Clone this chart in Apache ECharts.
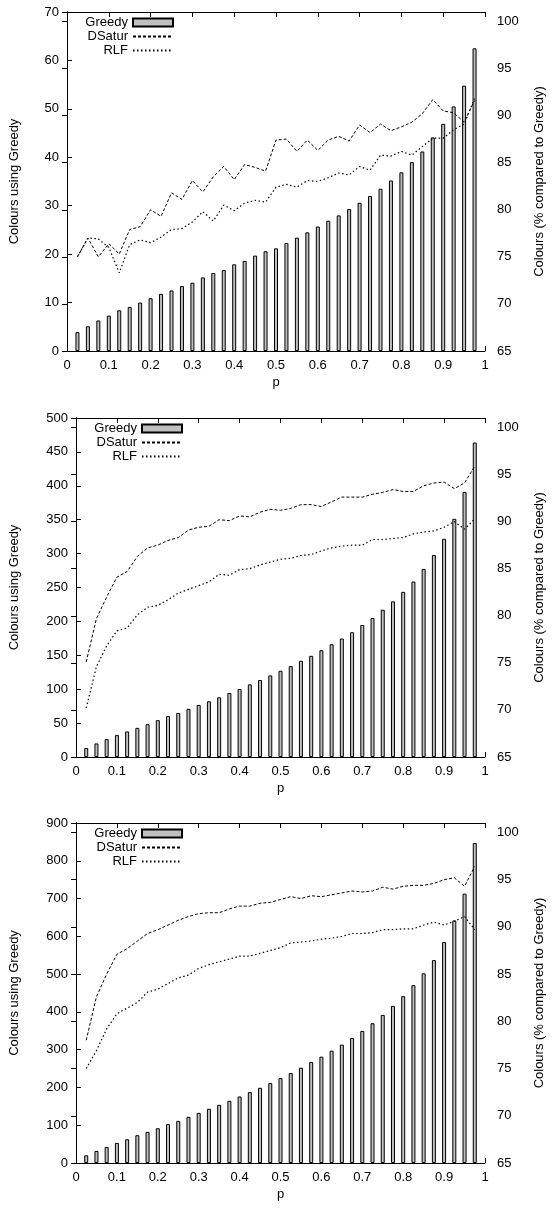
<!DOCTYPE html>
<html>
<head>
<meta charset="utf-8">
<script src="https://cdn.jsdelivr.net/npm/echarts@6/dist/echarts.min.js"></script>
<style>
  html, body { margin: 0; padding: 0; background: #fff; }
  #chart { width: 554px; height: 1208px; }
</style>
</head>
<body>
<div id="chart"></div>
<script>
// edge probability p for every data point
const pValues = [0.025, 0.05, 0.075, 0.1, 0.125, 0.15, 0.175, 0.2, 0.225, 0.25,
  0.275, 0.3, 0.325, 0.35, 0.375, 0.4, 0.425, 0.45, 0.475, 0.5,
  0.525, 0.55, 0.575, 0.6, 0.625, 0.65, 0.675, 0.7, 0.725, 0.75,
  0.775, 0.8, 0.825, 0.85, 0.875, 0.9, 0.925, 0.95, 0.975];

// top panel
const greedy1 = [3.9, 5.1, 6.3, 7.3, 8.4, 9.1, 10.0, 10.9, 11.8, 12.5,
  13.4, 14.1, 15.2, 16.1, 16.7, 17.9, 18.6, 19.7, 20.6, 21.2,
  22.3, 23.4, 24.5, 25.7, 26.9, 28.0, 29.3, 30.6, 32.0, 33.5,
  35.2, 36.9, 39.0, 41.2, 44.1, 46.9, 50.5, 54.8, 62.5];
const dsatur1 = [75.0, 77.0, 75.0, 76.4, 75.3, 77.9, 78.2, 80.0, 79.3, 81.8,
  81.1, 83.1, 81.9, 83.5, 84.6, 83.2, 84.8, 84.5, 84.1, 87.4,
  87.5, 86.2, 87.4, 86.3, 87.4, 87.8, 87.3, 89.0, 88.2, 89.1,
  88.4, 88.8, 89.3, 90.2, 91.7, 90.5, 90.3, 89.3, 91.6];
const rlf1 = [75.0, 77.0, 76.9, 76.0, 73.3, 76.3, 76.8, 76.5, 77.1, 77.9,
  78.0, 78.7, 79.8, 78.8, 80.5, 79.9, 80.7, 81.0, 80.8, 82.4,
  82.7, 82.4, 83.1, 83.0, 83.4, 83.9, 83.7, 84.6, 84.2, 85.8,
  85.7, 86.2, 85.8, 86.7, 87.6, 87.6, 88.5, 89.1, 91.8];

// middle panel
const greedy2 = [13.2, 20.0, 26.4, 32.3, 37.7, 43.0, 48.4, 54.3, 60.2, 65.0,
  71.0, 76.8, 82.2, 88.0, 94.4, 100.3, 107.1, 113.5, 120.3, 127.2,
  134.0, 141.9, 149.2, 157.5, 166.3, 174.7, 184.0, 194.7, 205.0, 217.2,
  229.5, 243.6, 258.8, 277.4, 298.0, 321.9, 351.3, 390.9, 463.8];
const dsatur2 = [75.1, 79.7, 82.0, 84.1, 84.7, 86.3, 87.2, 87.5, 88.0, 88.3,
  89.1, 89.4, 89.5, 90.2, 90.1, 90.6, 90.5, 91.0, 91.3, 91.2,
  91.4, 91.8, 91.8, 91.6, 92.1, 92.6, 92.6, 92.6, 92.9, 93.1,
  93.4, 93.2, 93.2, 93.8, 94.1, 94.2, 93.5, 94.1, 95.9];
const rlf2 = [70.2, 74.6, 76.8, 78.4, 78.7, 80.1, 80.9, 81.1, 81.7, 82.4,
  82.8, 83.2, 83.6, 84.4, 84.3, 84.9, 85.0, 85.4, 85.7, 86.0,
  86.1, 86.4, 86.5, 86.9, 87.2, 87.4, 87.5, 87.5, 88.1, 88.1,
  88.2, 88.3, 88.7, 88.9, 89.0, 89.4, 90.0, 89.2, 90.3];

// bottom panel
const greedy3 = [20.4, 31.9, 42.5, 53.1, 62.8, 73.5, 82.3, 92.0, 102.7, 111.5,
  122.1, 132.7, 143.4, 154.0, 164.6, 176.1, 187.6, 199.1, 211.5, 224.8,
  238.0, 252.2, 267.3, 281.4, 297.3, 313.3, 331.0, 349.6, 369.9, 392.0,
  415.9, 441.6, 470.8, 502.0, 537.0, 585.0, 642.0, 713.0, 847.0];
const dsatur3 = [78.0, 82.6, 85.0, 87.1, 87.7, 88.5, 89.3, 89.7, 90.2, 90.7,
  91.1, 91.4, 91.5, 91.5, 91.9, 92.2, 92.2, 92.5, 92.6, 92.9,
  93.2, 93.0, 93.3, 93.2, 93.4, 93.6, 93.8, 93.7, 93.8, 94.2,
  94.0, 94.3, 94.4, 94.4, 94.6, 95.0, 95.2, 94.3, 96.4];
const rlf3 = [75.0, 76.9, 79.2, 80.8, 81.4, 82.0, 83.1, 83.4, 84.0, 84.6,
  84.9, 85.6, 86.0, 86.3, 86.6, 86.9, 86.9, 87.2, 87.5, 87.8,
  88.3, 88.4, 88.5, 88.7, 88.8, 89.0, 89.3, 89.3, 89.4, 89.7,
  89.7, 89.8, 89.8, 90.2, 90.5, 90.2, 90.6, 91.1, 89.7];

// left axis range per panel, right axis is the same everywhere
const leftMax = [70, 500, 900];
const leftStep = [10, 50, 100];
const rightMin = 65, rightMax = 101, rightStep = 5;

const greedyAll = [greedy1, greedy2, greedy3];
const dsaturAll = [dsatur1, dsatur2, dsatur3];
const rlfAll = [rlf1, rlf2, rlf3];

const FONT = '"Liberation Sans", Arial, Helvetica, sans-serif';
const W = 554;
const layout = [
  { top: 12, left: 65, right: 68, height: 339 },
  { top: 418, left: 74, right: 67, height: 339 },
  { top: 823, left: 74, right: 67, height: 340 }
];

const pair = (ys) => pValues.map((p, i) => [p, ys[i]]);
const lineAxis = { lineStyle: { color: '#000', width: 1 } };
const inTick = { inside: true, length: 5, lineStyle: { color: '#000', width: 1 } };
const labelStyle = { color: '#000', fontSize: 13, fontFamily: FONT };

const grid = [], xAxis = [], yAxis = [], series = [], legend = [];

layout.forEach((g, i) => {
  grid.push({ top: g.top, left: g.left, right: g.right, height: g.height });

  xAxis.push({
    gridIndex: i, type: 'value', min: 0, max: 1, interval: 0.1, position: 'bottom',
    axisLine: lineAxis, axisTick: inTick, splitLine: { show: false },
    axisLabel: Object.assign({ margin: 8 }, labelStyle),
    name: 'p', nameLocation: 'middle', nameGap: 25,
    nameTextStyle: labelStyle
  });
  xAxis.push({
    gridIndex: i, type: 'value', min: 0, max: 1, interval: 0.1, position: 'top',
    axisLine: lineAxis, axisTick: inTick, splitLine: { show: false },
    axisLabel: { show: false }
  });

  yAxis.push({
    gridIndex: i, type: 'value', min: 0, max: leftMax[i], interval: leftStep[i], position: 'left',
    axisLine: lineAxis, axisTick: inTick, splitLine: { show: false },
    axisLabel: Object.assign({ margin: 8 }, labelStyle),
    name: 'Colours using Greedy', nameLocation: 'middle', nameGap: g.left - 19,
    nameTextStyle: labelStyle
  });
  yAxis.push({
    gridIndex: i, type: 'value', min: rightMin, max: rightMax, interval: rightStep, position: 'right',
    axisLine: lineAxis, axisTick: inTick, splitLine: { show: false },
    axisLabel: Object.assign({
      margin: 12,
      formatter: (v) => (v % rightStep === 0 ? String(v) : '')
    }, labelStyle),
    name: 'Colours (% compared to Greedy)', nameLocation: 'middle', nameGap: 48,
    nameTextStyle: labelStyle
  });

  series.push({
    name: 'Greedy', type: 'bar', xAxisIndex: 2 * i, yAxisIndex: 2 * i,
    barWidth: 4, data: pair(greedyAll[i]),
    itemStyle: { color: '#c0c0c0', borderColor: '#000', borderWidth: 1 },
    z: 2
  });
  series.push({
    name: 'DSatur', type: 'line', xAxisIndex: 2 * i, yAxisIndex: 2 * i + 1,
    symbol: 'none', data: pair(dsaturAll[i]),
    lineStyle: { color: '#000', width: 1, type: [3, 2] },
    itemStyle: { color: '#000' }, z: 3
  });
  series.push({
    name: 'RLF', type: 'line', xAxisIndex: 2 * i, yAxisIndex: 2 * i + 1,
    symbol: 'none', data: pair(rlfAll[i]),
    lineStyle: { color: '#000', width: 1.2, type: [1.5, 2.5] },
    itemStyle: { color: '#000' }, z: 3
  });

  // one legend per row so the keys line up on the right like gnuplot
  ['Greedy', 'DSatur', 'RLF'].forEach((name, k) => {
    const key = {
      data: [name], align: 'right', orient: 'horizontal',
      right: W - (g.left + 109), top: g.top + 12 + 14 * k - 8,
      padding: 0, itemWidth: 40, itemHeight: 8,
      selectedMode: false,
      textStyle: labelStyle
    };
    if (name === 'Greedy') {
      key.icon = 'rect';
    } else {
      // hide the marker dot that ECharts adds to line keys
      key.itemStyle = { opacity: 0 };
    }
    legend.push(key);
  });
});

const chart = echarts.init(document.getElementById('chart'), null, { renderer: 'canvas' });
chart.setOption({
  animation: false,
  backgroundColor: '#fff',
  textStyle: { fontFamily: FONT },
  grid, xAxis, yAxis, series, legend
});
</script>
</body>
</html>
